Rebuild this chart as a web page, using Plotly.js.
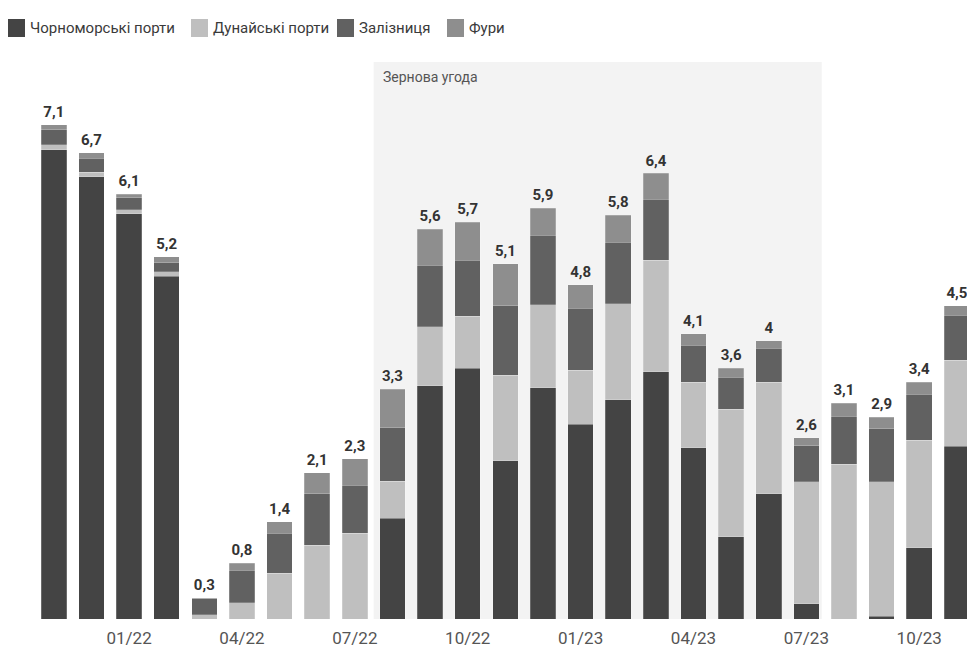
<!DOCTYPE html>
<html>
<head>
<meta charset="utf-8">
<script src="https://cdn.plot.ly/plotly-3.0.1.min.js"></script>
<style>html,body{margin:0;padding:0;background:#fff;}#chart{width:967px;height:650px;}</style>
</head>
<body>
<div id="chart"></div>
<script>
const months = ['11/21','12/21','01/22','02/22','03/22','04/22','05/22','06/22','07/22','08/22','09/22','10/22','11/22','12/22','01/23','02/23','03/23','04/23','05/23','06/23','07/23','08/23','09/23','10/23','11/23'];
const tickLabels = ['01/22','04/22','07/22','10/22','01/23','04/23','07/23','10/23'];
const seriesNames = ['Чорноморські порти','Дунайські порти','Залізниця','Фури'];
const chornomorski = [6.74,6.35,5.82,4.92,0,0,0,0,0,1.45,3.35,3.6,2.27,3.32,2.8,3.15,3.55,2.46,1.18,1.8,0.22,0,0.04,1.02,2.48];
const dunaiski     = [0.07,0.07,0.06,0.07,0.06,0.23,0.66,1.06,1.23,0.53,0.85,0.75,1.23,1.19,0.77,1.38,1.6,0.94,1.83,1.6,1.75,2.22,1.93,1.55,1.24];
const zaliznytsia  = [0.22,0.2,0.17,0.13,0.24,0.47,0.57,0.74,0.69,0.77,0.88,0.8,1.0,1.0,0.89,0.88,0.88,0.53,0.46,0.49,0.52,0.69,0.76,0.66,0.64];
const fury         = [0.07,0.08,0.05,0.08,0,0.1,0.17,0.30,0.38,0.55,0.52,0.55,0.6,0.39,0.34,0.39,0.37,0.17,0.13,0.11,0.11,0.19,0.17,0.17,0.14];
const totals       = [7.1,6.7,6.1,5.2,0.3,0.8,1.4,2.1,2.3,3.3,5.6,5.7,5.1,5.9,4.8,5.8,6.4,4.1,3.6,4,2.6,3.1,2.9,3.4,4.5];
const dealStart = '08/22', dealEnd = '07/23';
const dealLabel = 'Зернова угода';

const colors = ['#444444','#bfbfbf','#616161','#8e8e8e'];
const values = [chornomorski, dunaiski, zaliznytsia, fury];

const traces = values.map((v, i) => ({
  type: 'bar', x: months, y: v, name: seriesNames[i], showlegend: false,
  marker: {color: colors[i], line: {width: 0.6, color: 'rgba(255,255,255,0.35)'}},
  hoverinfo: 'x+y+name'
}));
traces.push({
  type: 'scatter', mode: 'markers+text', x: months, y: totals,
  marker: {size: 5, opacity: 0},
  text: totals.map(t => String(t).replace('.', ',')),
  textposition: 'top center',
  textfont: {family: 'Roboto, sans-serif', size: 15, color: '#333', weight: 'bold'},
  cliponaxis: false, showlegend: false, hoverinfo: 'skip'
});

const iStart = months.indexOf(dealStart), iEnd = months.indexOf(dealEnd);

// custom legend (layout only)
const legendSquareX = [8, 191, 337, 447];
const legendShapes = seriesNames.map((n, i) => ({
  type: 'rect', xref: 'paper', yref: 'paper',
  x0: (legendSquareX[i] - 35) / 932, x1: (legendSquareX[i] + 17 - 35) / 932,
  y0: 1 + (62 - 37) / 557, y1: 1 + (62 - 19) / 557,
  fillcolor: colors[i], line: {width: 0}
}));
const legendTexts = seriesNames.map((n, i) => ({
  xref: 'paper', yref: 'paper', x: (legendSquareX[i] + 20 - 35) / 932, y: 1 + (62 - 28) / 557,
  xanchor: 'left', yanchor: 'middle', text: n, showarrow: false,
  font: {size: 15, color: '#3a3a3a'}
}));

const layout = {
  width: 967, height: 650,
  margin: {l: 35, r: 0, t: 62, b: 31},
  paper_bgcolor: '#fff', plot_bgcolor: 'rgba(0,0,0,0)',
  font: {family: 'Roboto, sans-serif', color: '#444'},
  barmode: 'stack', bargap: 0.32,
  showlegend: false,
  xaxis: {type: 'category', range: [-0.5, 24.27], tickmode: 'array', tickvals: tickLabels, ticktext: tickLabels,
          showgrid: false, zeroline: false, showline: false, ticks: '', ticklabelstandoff: 7,
          tickfont: {size: 17, color: '#555'}, fixedrange: true},
  yaxis: {range: [0, 8], visible: false, fixedrange: true},
  shapes: [{type: 'rect', xref: 'x', yref: 'paper', x0: iStart - 0.5, x1: iEnd + 0.41, y0: 0, y1: 1,
            fillcolor: '#f3f3f3', line: {width: 0}, layer: 'below'}].concat(legendShapes),
  annotations: [{xref: 'x', yref: 'paper', x: iStart - 0.5, y: 1, xanchor: 'left', yanchor: 'top', xshift: 7, yshift: -5,
                 text: dealLabel, showarrow: false, font: {size: 14, color: '#555'}}].concat(legendTexts)
};

Plotly.newPlot('chart', traces, layout, {displayModeBar: false, staticPlot: true});
</script>
</body>
</html>
